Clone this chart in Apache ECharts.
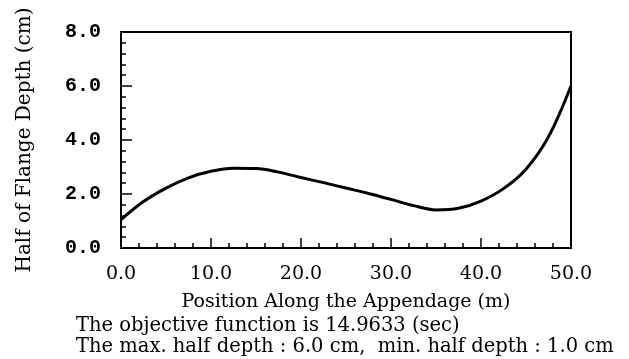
<!DOCTYPE html>
<html>
<head>
<meta charset="utf-8">
<script src="https://cdn.jsdelivr.net/npm/echarts@6/dist/echarts.min.js"></script>
<style>
html,body{margin:0;padding:0;background:#fff;}
#c{width:629px;height:359px;}
</style>
</head>
<body>
<div id="c"></div>
<script>
// Position along the appendage (m)
var positions = [0, 2.5, 5, 7.5, 10, 12.5, 15, 17.5, 20, 22.5, 25, 27.5, 30, 32.5, 35, 37.5, 40, 42.5, 45, 47.5, 50];
// Half of flange depth (cm)
var halfDepth = [1.05, 1.72, 2.22, 2.60, 2.84, 2.95, 2.94, 2.81, 2.61, 2.42, 2.22, 2.02, 1.80, 1.57, 1.41, 1.47, 1.74, 2.20, 2.92, 4.12, 6.0];

var xTitle = 'Position Along the Appendage (m)';
var yTitle = 'Half of Flange Depth (cm)';
var noteLines = [
  'The objective function is 14.9633 (sec)',
  'The max. half depth : 6.0 cm,  min. half depth : 1.0 cm'
];

var chart = echarts.init(document.getElementById('c'), null, {renderer: 'canvas'});
var serif = '"DejaVu Serif", serif';
var mono = '"Liberation Mono", "DejaVu Sans Mono", monospace';

chart.setOption({
  animation: false,
  backgroundColor: '#fff',
  grid: {
    left: 121, right: 58, top: 32, bottom: 111,
    show: true, borderColor: '#000', borderWidth: 2, backgroundColor: 'transparent'
  },
  xAxis: {
    type: 'value', min: 0, max: 50, interval: 10,
    name: xTitle, nameLocation: 'middle', nameGap: 45,
    nameTextStyle: {fontFamily: serif, fontSize: 19, color: '#000'},
    axisLine: {show: true, lineStyle: {color: '#000', width: 2}},
    axisTick: {show: true, inside: true, length: 10, lineStyle: {color: '#000', width: 1.5}},
    minorTick: {show: true, splitNumber: 5, length: 5, lineStyle: {color: '#000', width: 1.5}},
    splitLine: {show: false},
    axisLabel: {
      margin: 17, color: '#000', fontFamily: serif, fontSize: 19,
      formatter: function (v) { return v.toFixed(1); }
    }
  },
  yAxis: {
    type: 'value', min: 0, max: 8, interval: 2,
    name: yTitle, nameLocation: 'middle', nameGap: 86, nameRotate: 90,
    nameTextStyle: {fontFamily: serif, fontSize: 20, color: '#000'},
    axisLine: {show: true, lineStyle: {color: '#000', width: 2}},
    axisTick: {show: true, inside: true, length: 11, lineStyle: {color: '#000', width: 1.5}},
    minorTick: {show: true, splitNumber: 5, length: 5, lineStyle: {color: '#000', width: 1.5}},
    splitLine: {show: false},
    axisLabel: {
      margin: 20, color: '#000', fontFamily: mono, fontWeight: 'bold', fontSize: 20,
      formatter: function (v) { return v.toFixed(1); }
    }
  },
  series: [{
    type: 'line',
    data: positions.map(function (x, i) { return [x, halfDepth[i]]; }),
    smooth: 0.35,
    showSymbol: false,
    lineStyle: {color: '#000', width: 3},
    clip: false
  }],
  graphic: noteLines.map(function (t, i) {
    return {
      type: 'text', left: 76, top: 316 + i * 21,
      style: {text: t, font: '19.5px ' + serif, fill: '#000'}
    };
  })
});
</script>
</body>
</html>
